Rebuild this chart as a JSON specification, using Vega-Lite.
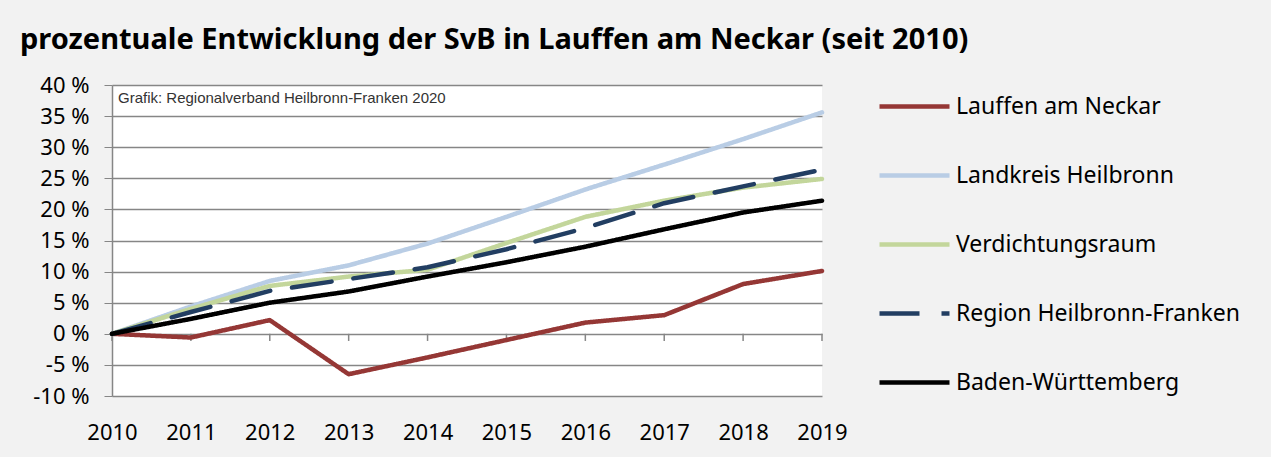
{
  "$schema": "https://vega.github.io/schema/vega-lite/v6.json",
  "width": 710,
  "height": 311,
  "autosize": "none",
  "padding": {"left": 112, "top": 85, "right": 449, "bottom": 61},
  "background": "#f2f2f2",
  "config": {
    "font": "Noto Sans",
    "view": {"fill": "white", "stroke": null},
    "axisY": {
      "values": [-10, -5, 0, 5, 10, 15, 20, 25, 30, 35, 40],
      "labelExpr": "datum.value + ' %'",
      "labelOverlap": false,
      "grid": true,
      "gridColor": "#868686",
      "gridWidth": 1.3,
      "domain": true,
      "domainColor": "#868686",
      "domainWidth": 1.5,
      "ticks": true,
      "tickColor": "#868686",
      "tickSize": 8,
      "labelPadding": 15,
      "labelFontSize": 22,
      "labelColor": "black",
      "labelFont": "Noto Sans",
      "title": null
    }
  },
  "title": {
    "text": "prozentuale Entwicklung der SvB in Lauffen am Neckar (seit 2010)",
    "anchor": "start",
    "frame": "group",
    "font": "Noto Sans",
    "fontSize": 29,
    "fontWeight": "bold",
    "color": "black",
    "dx": -92,
    "offset": 14
  },
  "data": {
    "values": [
      {"year": 2010, "series": "Lauffen am Neckar", "value": 0},
      {"year": 2011, "series": "Lauffen am Neckar", "value": -0.6},
      {"year": 2012, "series": "Lauffen am Neckar", "value": 2.2},
      {"year": 2013, "series": "Lauffen am Neckar", "value": -6.5},
      {"year": 2014, "series": "Lauffen am Neckar", "value": -3.8},
      {"year": 2015, "series": "Lauffen am Neckar", "value": -1.0},
      {"year": 2016, "series": "Lauffen am Neckar", "value": 1.8},
      {"year": 2017, "series": "Lauffen am Neckar", "value": 3.0},
      {"year": 2018, "series": "Lauffen am Neckar", "value": 8.0},
      {"year": 2019, "series": "Lauffen am Neckar", "value": 10.1},
      {"year": 2010, "series": "Landkreis Heilbronn", "value": 0},
      {"year": 2011, "series": "Landkreis Heilbronn", "value": 4.4},
      {"year": 2012, "series": "Landkreis Heilbronn", "value": 8.5},
      {"year": 2013, "series": "Landkreis Heilbronn", "value": 11.0},
      {"year": 2014, "series": "Landkreis Heilbronn", "value": 14.5},
      {"year": 2015, "series": "Landkreis Heilbronn", "value": 18.8},
      {"year": 2016, "series": "Landkreis Heilbronn", "value": 23.2},
      {"year": 2017, "series": "Landkreis Heilbronn", "value": 27.2},
      {"year": 2018, "series": "Landkreis Heilbronn", "value": 31.3},
      {"year": 2019, "series": "Landkreis Heilbronn", "value": 35.6},
      {"year": 2010, "series": "Verdichtungsraum", "value": 0},
      {"year": 2011, "series": "Verdichtungsraum", "value": 4.0},
      {"year": 2012, "series": "Verdichtungsraum", "value": 7.7},
      {"year": 2013, "series": "Verdichtungsraum", "value": 9.2},
      {"year": 2014, "series": "Verdichtungsraum", "value": 10.3},
      {"year": 2015, "series": "Verdichtungsraum", "value": 14.6},
      {"year": 2016, "series": "Verdichtungsraum", "value": 18.8},
      {"year": 2017, "series": "Verdichtungsraum", "value": 21.4},
      {"year": 2018, "series": "Verdichtungsraum", "value": 23.5},
      {"year": 2019, "series": "Verdichtungsraum", "value": 24.9},
      {"year": 2010, "series": "Region Heilbronn-Franken", "value": 0},
      {"year": 2011, "series": "Region Heilbronn-Franken", "value": 3.5},
      {"year": 2012, "series": "Region Heilbronn-Franken", "value": 6.9},
      {"year": 2013, "series": "Region Heilbronn-Franken", "value": 8.8},
      {"year": 2014, "series": "Region Heilbronn-Franken", "value": 10.7},
      {"year": 2015, "series": "Region Heilbronn-Franken", "value": 13.6},
      {"year": 2016, "series": "Region Heilbronn-Franken", "value": 17.0},
      {"year": 2017, "series": "Region Heilbronn-Franken", "value": 21.0},
      {"year": 2018, "series": "Region Heilbronn-Franken", "value": 23.7},
      {"year": 2019, "series": "Region Heilbronn-Franken", "value": 26.4},
      {"year": 2010, "series": "Baden-Württemberg", "value": 0},
      {"year": 2011, "series": "Baden-Württemberg", "value": 2.4},
      {"year": 2012, "series": "Baden-Württemberg", "value": 5.0},
      {"year": 2013, "series": "Baden-Württemberg", "value": 6.8},
      {"year": 2014, "series": "Baden-Württemberg", "value": 9.2},
      {"year": 2015, "series": "Baden-Württemberg", "value": 11.5},
      {"year": 2016, "series": "Baden-Württemberg", "value": 14.0},
      {"year": 2017, "series": "Baden-Württemberg", "value": 16.8},
      {"year": 2018, "series": "Baden-Württemberg", "value": 19.5},
      {"year": 2019, "series": "Baden-Württemberg", "value": 21.4}
    ]
  },
  "encoding": {
    "x": {
      "field": "year",
      "type": "quantitative",
      "scale": {"domain": [2010, 2019], "nice": false, "zero": false},
      "axis": {
        "title": null,
        "values": [2010, 2011, 2012, 2013, 2014, 2015, 2016, 2017, 2018, 2019],
        "format": "d",
        "grid": false,
        "domain": false,
        "ticks": false,
        "labelPadding": 26,
        "labelFontSize": 22,
        "labelColor": "black",
        "labelFont": "Noto Sans",
        "labelFlush": false,
        "labelOverlap": false
      }
    },
    "y": {
      "field": "value",
      "type": "quantitative",
      "scale": {"domain": [-10, 40], "nice": false},
      "axis": {"title": null}
    }
  },
  "layer": [
    {
      "transform": [{"filter": "datum.series === 'Baden-Württemberg'"}],
      "mark": {"type": "rule", "color": "#868686", "strokeWidth": 1.5},
      "encoding": {
        "y": {"datum": 0, "type": "quantitative", "axis": {"title": null}},
        "y2": {"datum": -1.15}
      }
    },
    {
      "mark": {"type": "line", "strokeWidth": 4.5, "strokeCap": "round", "strokeJoin": "round"},
      "encoding": {
        "color": {
          "field": "series",
          "type": "nominal",
          "sort": ["Lauffen am Neckar", "Landkreis Heilbronn", "Verdichtungsraum", "Region Heilbronn-Franken", "Baden-Württemberg"],
          "scale": {
            "domain": ["Lauffen am Neckar", "Landkreis Heilbronn", "Verdichtungsraum", "Region Heilbronn-Franken", "Baden-Württemberg"],
            "range": ["#953735", "#b9cde5", "#c3d69b", "#223e62", "#000000"]
          },
          "legend": {
            "title": null,
            "orient": "none",
            "legendX": 765,
            "legendY": -16,
            "symbolType": "stroke",
            "symbolSize": 4900,
            "symbolStrokeWidth": 4.5,
            "labelFontSize": 23,
            "labelFont": "Noto Sans",
            "labelColor": "black",
            "labelOffset": 4,
            "labelLimit": 400,
            "rowPadding": 19,
            "padding": 0
          }
        },
        "strokeDash": {
          "field": "series",
          "type": "nominal",
          "sort": ["Lauffen am Neckar", "Landkreis Heilbronn", "Verdichtungsraum", "Region Heilbronn-Franken", "Baden-Württemberg"],
          "scale": {
            "domain": ["Lauffen am Neckar", "Landkreis Heilbronn", "Verdichtungsraum", "Region Heilbronn-Franken", "Baden-Württemberg"],
            "range": [[1, 0], [1, 0], [1, 0], [40, 22], [1, 0]]
          },
          "legend": {
            "title": null,
            "orient": "none",
            "legendX": 765,
            "legendY": -16,
            "symbolType": "stroke",
            "symbolSize": 4900,
            "symbolStrokeWidth": 4.5,
            "labelFontSize": 23,
            "labelFont": "Noto Sans",
            "labelColor": "black",
            "labelOffset": 4,
            "labelLimit": 400,
            "rowPadding": 19,
            "padding": 0
          }
        },
        "order": {"field": "year"}
      }
    },
    {
      "data": {"values": [{"label": "Grafik: Regionalverband Heilbronn-Franken 2020", "year": 2010, "value": 40}]},
      "mark": {
        "type": "text",
        "font": "Liberation Sans",
        "fontSize": 15,
        "color": "#333333",
        "align": "left",
        "baseline": "middle",
        "dx": 6,
        "dy": 12.5
      },
      "encoding": {
        "text": {"field": "label"}
      }
    }
  ]
}
